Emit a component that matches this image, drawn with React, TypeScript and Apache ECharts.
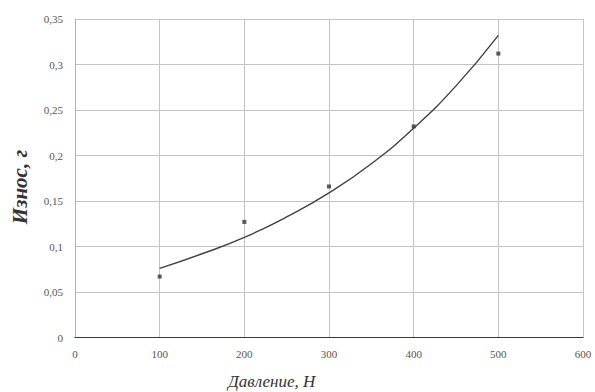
import React, { useEffect, useRef } from "react";
import * as echarts from "echarts";

const xTicks = [0, 100, 200, 300, 400, 500, 600];
const pressure = [100, 200, 300, 400, 500];
const wear = [0.067, 0.127, 0.166, 0.232, 0.312];
const trendX = [100, 150, 200, 250, 300, 350, 400, 450, 500];
const trendY = [0.076, 0.092, 0.110, 0.1325, 0.159, 0.191, 0.230, 0.2765, 0.332];
const xTitle = "Давление, Н";
const yTitle = "Износ, г";

const FONT = "Times New Roman, Liberation Serif, DejaVu Serif, serif";

export default function App() {
  const ref = useRef<HTMLDivElement>(null);
  useEffect(() => {
    document.body.style.margin = "0";
    const chart = echarts.init(ref.current!, null, { renderer: "svg" });
    chart.setOption({
      animation: false,
      backgroundColor: "#ffffff",
      textStyle: { fontFamily: FONT },
      grid: { left: 75, right: 12, top: 19, bottom: 54.5, containLabel: false },
      xAxis: {
        type: "value",
        min: xTicks[0],
        max: xTicks[xTicks.length - 1],
        interval: 100,
        axisLine: { show: true, lineStyle: { color: "#3a3a3a", width: 1.2 } },
        axisTick: { show: false },
        splitLine: { show: true, lineStyle: { color: "#c4c4c4", width: 1 } },
        axisLabel: { color: "#555", fontFamily: FONT, fontSize: 11, margin: 11 },
      },
      yAxis: {
        type: "value",
        min: 0,
        max: 0.35,
        interval: 0.05,
        axisLine: { show: true, lineStyle: { color: "#b0b0b0", width: 1 } },
        axisTick: { show: false },
        splitLine: { show: true, lineStyle: { color: "#c4c4c4", width: 1 } },
        axisLabel: {
          color: "#555",
          fontFamily: FONT,
          fontSize: 11,
          margin: 12,
          formatter: (v: number) => String(Math.round(v * 100) / 100).replace(".", ","),
        },
      },
      graphic: [
        {
          type: "text",
          left: 228,
          top: 373,
          style: { text: xTitle, fontFamily: FONT, fontStyle: "italic", fontSize: 17, fill: "#333" },
        },
        {
          type: "text",
          x: 20,
          y: 187,
          rotation: Math.PI / 2,
          style: {
            text: yTitle,
            fontFamily: FONT,
            fontStyle: "italic",
            fontWeight: "bold",
            fontSize: 21,
            fill: "#333",
            align: "center",
            verticalAlign: "middle",
          },
        },
      ],
      series: [
        {
          type: "line",
          data: trendX.map((x, i) => [x, trendY[i]]),
          smooth: true,
          showSymbol: false,
          symbol: "none",
          lineStyle: { color: "#404040", width: 1.4 },
          z: 3,
        },
        {
          type: "scatter",
          data: pressure.map((x, i) => [x, wear[i]]),
          symbol: "rect",
          symbolSize: 4,
          itemStyle: { color: "#333" },
          z: 4,
        },
      ],
    });
    return () => chart.dispose();
  }, []);
  return <div ref={ref} style={{ width: 595, height: 392 }} />;
}
